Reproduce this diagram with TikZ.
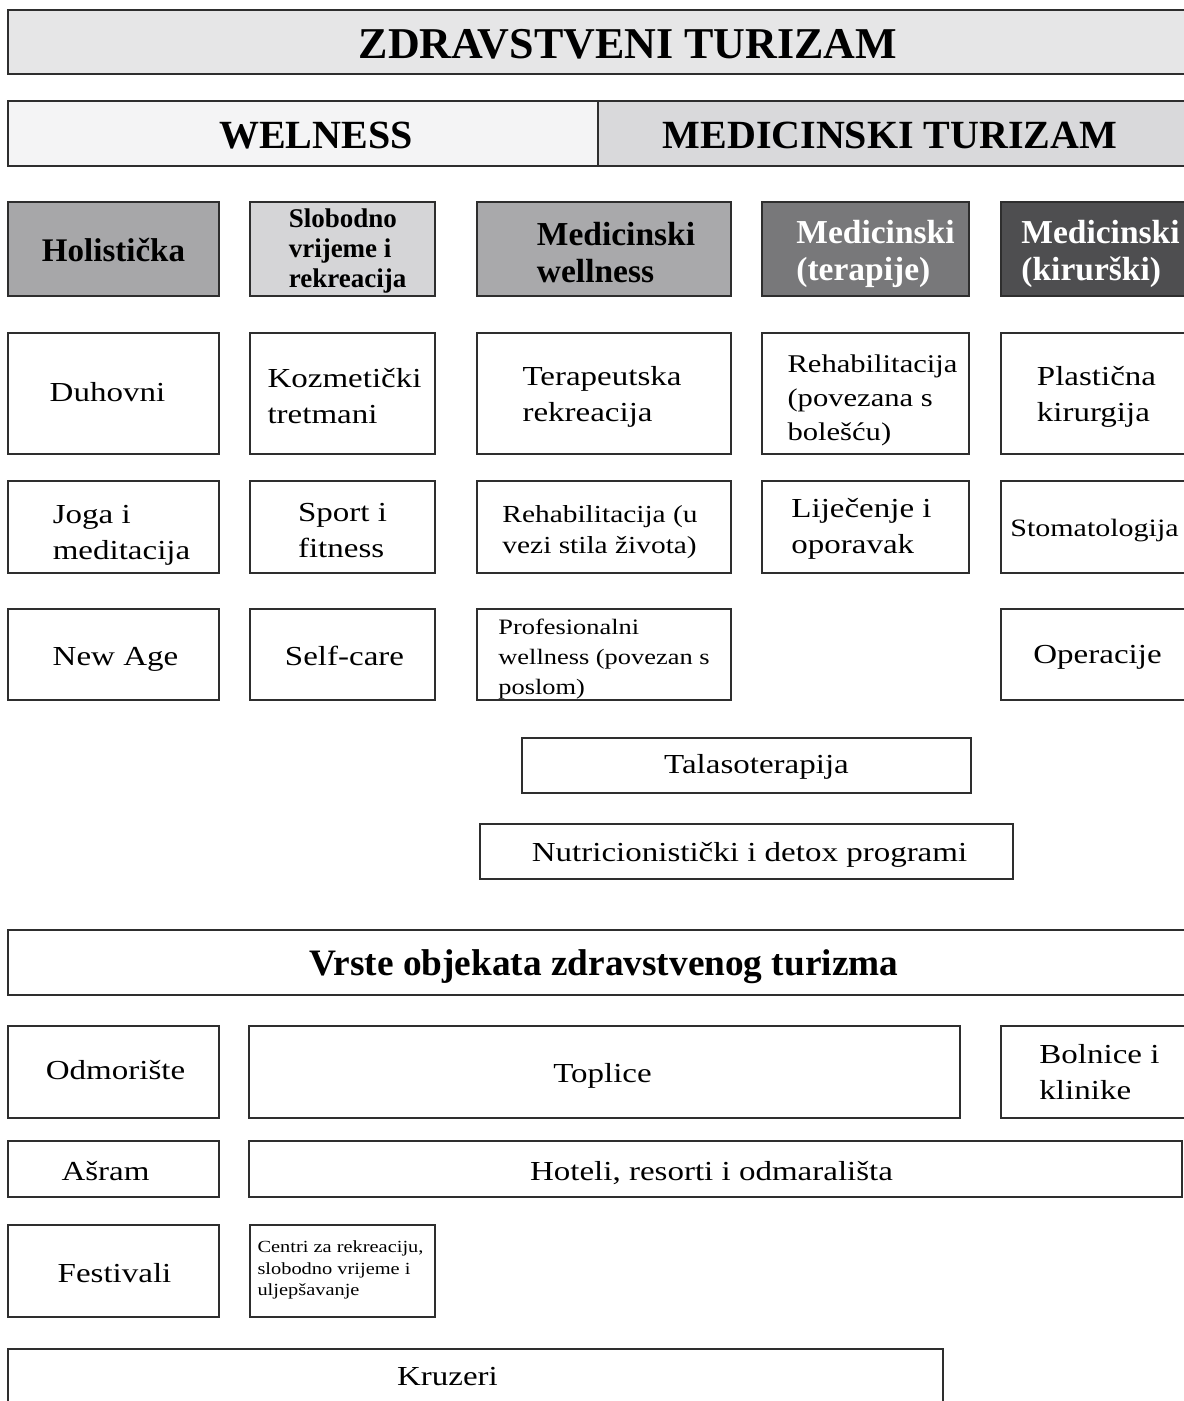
\documentclass[tikz,border=0pt]{standalone}
\usepackage{fontspec}
\setmainfont{Liberation Serif}[FakeStretch=1.2]
\newfontfamily\hfont{Liberation Serif}
\newcommand{\fs}[2]{\fontsize{#1}{#2}\selectfont}
\definecolor{cTitle}{HTML}{E6E6E7}
\definecolor{cWel}{HTML}{F4F4F5}
\definecolor{cMed}{HTML}{D9D9DB}
\definecolor{cHol}{HTML}{A7A7A9}
\definecolor{cSlo}{HTML}{D5D5D7}
\definecolor{cMW}{HTML}{A9A9AB}
\definecolor{cTer}{HTML}{78787A}
\definecolor{cKir}{HTML}{4E4E50}
\tikzset{
  box/.style={draw=black!82, line width=2.2pt, inner sep=0pt, outer sep=0pt, align=left, font=\fs{27.5}{36}, text=black},
  head/.style={font=\hfont\bfseries\fs{33.5}{37}},
  bighead/.style={font=\hfont\bfseries\fs{40}{44}},
}
% [style]{name}{x1}{y1}{x2}{y2}{dx}{dy}{text}
\newcommand{\bx}[9][]{\node[box,#1,anchor=north west,minimum width=#5-#3,minimum height=#6-#4] (#2) at (#3,-#4) {\kern#7pt\raisebox{\dimexpr#8pt-4pt\relax}[\height][\depth]{\begin{tabular}{@{}l@{}}#9\end{tabular}}\kern-#7pt};}
\begin{document}
\begin{tikzpicture}[x=1pt,y=1pt]
\useasboundingbox (0,0) rectangle (1184,-1401);
\clip (0,0) rectangle (1184,-1401);
\fill[white] (0,0) rectangle (1184,-1401);
% headers
\bx[fill=cTitle,font=\hfont\bfseries\fs{44}{48}]{title}{8}{10}{1196}{74}{26}{-3}{ZDRAVSTVENI TURIZAM}
\bx[fill=cWel,bighead]{wel}{8}{101}{598}{166}{13}{-2}{WELNESS}
\bx[fill=cMed,bighead]{med}{598}{101}{1196}{166}{-7}{-2}{MEDICINSKI TURIZAM}
% category row
\bx[fill=cHol,font=\hfont\bfseries\fs{33}{37}]{hol}{8}{202}{219}{296}{0}{-1}{Holistička}
\bx[fill=cSlo,font=\hfont\bfseries\fs{27}{30}]{slo}{250}{202}{435}{296}{5}{1.5}{Slobodno\\vrijeme i\\rekreacija}
\bx[fill=cMW,head]{mw}{477}{202}{731}{296}{12}{-4}{Medicinski\\wellness}
\bx[fill=cTer,head,text=white]{ter}{762}{202}{969}{296}{10}{-2}{Medicinski\\(terapije)}
\bx[fill=cKir,head,text=white]{kir}{1001}{202}{1208}{296}{-4}{-2}{Medicinski\\(kirurški)}
% row 2
\bx{duh}{8}{333}{219}{454}{-6}{3}{Duhovni}
\bx{koz}{250}{333}{435}{454}{2}{-1}{Kozmetički\\tretmani}
\bx{trk}{477}{333}{731}{454}{-2}{1}{Terapeutska\\rekreacija}
\bx[font=\fs{25.5}{34}]{rhb}{762}{333}{969}{454}{7}{-2.5}{Rehabilitacija\\(povezana s\\bolešću)}
\bx{pla}{1001}{333}{1208}{454}{-8}{1}{Plastična\\kirurgija}
% row 3
\bx{jog}{8}{481}{219}{573}{8}{-3.5}{Joga i\\meditacija}
\bx{spo}{250}{481}{435}{573}{0}{-1.5}{Sport i\\fitness}
\bx[font=\fs{24.5}{31}]{rsz}{477}{481}{731}{573}{-4}{-1}{Rehabilitacija (u\\vezi stila života)}
\bx{lij}{762}{481}{969}{573}{-4}{2.5}{Liječenje i\\oporavak}
\bx[font=\fs{25}{31}]{sto}{1001}{481}{1208}{573}{-10}{1}{Stomatologija}
% row 4
\bx{new}{8}{609}{219}{700}{2}{0}{New Age}
\bx{sel}{250}{609}{435}{700}{2}{0}{Self-care}
\bx[font=\fs{22}{30}]{pro}{477}{609}{731}{700}{0}{0}{Profesionalni\\wellness (povezan s\\poslom)}
\bx{ope}{1001}{609}{1208}{700}{-7}{2}{Operacije}
% extra
\bx{tal}{522}{738}{971}{793}{10}{3}{Talasoterapija}
\bx{nut}{480}{824}{1013}{879}{3}{1}{Nutricionistički i detox programi}
% objects
\bx[font=\hfont\bfseries\fs{37.3}{40}]{vrs}{8}{930}{1208}{995}{-4}{-1}{Vrste objekata zdravstvenog turizma}
\bx{odm}{8}{1026}{219}{1118}{2}{4}{Odmorište}
\bx{top}{249}{1026}{960}{1118}{-2}{1}{Toplice}
\bx{bol}{1001}{1026}{1208}{1118}{-5}{2}{Bolnice i\\klinike}
\bx{asr}{8}{1141}{219}{1197}{-8}{0}{Ašram}
\bx{hot}{249}{1141}{1182}{1197}{-4}{0}{Hoteli, resorti i odmarališta}
\bx{fes}{8}{1225}{219}{1317}{1}{0}{Festivali}
\bx[font=\fs{17}{21.5}]{cen}{250}{1225}{435}{1317}{-2}{5}{Centri za rekreaciju,\\slobodno vrijeme i\\uljepšavanje}
\bx{kru}{8}{1349}{943}{1410}{-28}{5}{Kruzeri}
\end{tikzpicture}
\end{document}
